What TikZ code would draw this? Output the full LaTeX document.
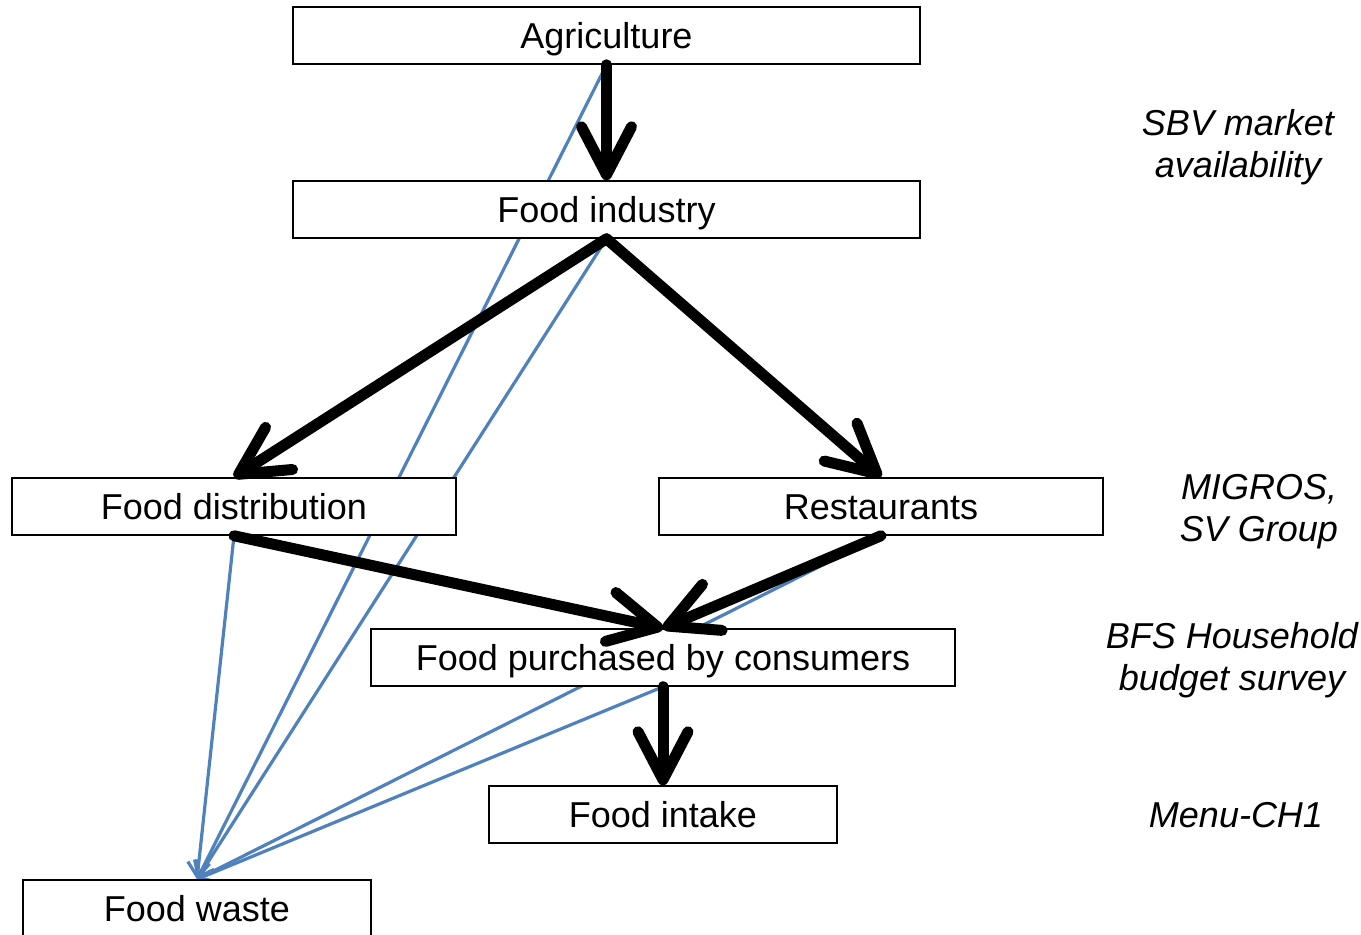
\documentclass[tikz,border=0pt]{standalone}
\usepackage{fontspec}
\setmainfont{Liberation Sans}
\usetikzlibrary{arrows.meta}
\pgfdeclarelayer{bg}
\pgfsetlayers{bg,main}
\definecolor{lineblue}{RGB}{79,129,189}
\tikzset{
  box/.style={draw=black, line width=0.75pt, fill=white, minimum height=28.5pt, inner sep=0pt, text height=16pt, text depth=3.5pt, font=\fontsize{18}{21}\selectfont},
  flow/.style={line width=5.5pt, line cap=round, -{Straight Barb[length=24pt,width=25pt,round]}},
  waste/.style={draw=lineblue, line width=1.6pt, -{Straight Barb[length=7pt,width=11pt]}},
  src/.style={font=\fontsize{18}{21}\selectfont\itshape, align=center}
}
\begin{document}
\begin{tikzpicture}[x=0.5pt,y=-0.5pt]
\useasboundingbox (0,0) rectangle (1361,934);
\node[box, minimum width=313.5pt] (agri) at (606.5,35.5) {Agriculture};
\node[box, minimum width=313.5pt] (ind) at (606.5,209.5) {Food industry};
\node[box, minimum width=222pt] (dist) at (234,506.5) {Food distribution};
\node[box, minimum width=222pt] (rest) at (881,506.5) {Restaurants};
\node[box, minimum width=292pt] (purch) at (663,657.5) {Food purchased by consumers};
\node[box, minimum width=174pt] (intake) at (663,814.5) {Food intake};
\node[box, minimum width=174pt] (waste) at (197,908.5) {Food waste};

\node[src] (l1) at (1238,147) {SBV market\\availability};
\node[src] (l2) at (1259,512) {MIGROS,\\SV Group};
\node[src] (l3) at (1232,660) {BFS Household\\budget survey};
\node[src] (l4) at (1236,815) {Menu-CH1};

\begin{pgfonlayer}{bg}
\draw[waste] (agri.south) -- (waste.north);
\draw[waste] (ind.south) -- (waste.north);
\draw[waste] (dist.south) -- (waste.north);
\draw[waste] (rest.south) -- (waste.north);
\draw[waste] (purch.south) -- (waste.north);
\end{pgfonlayer}

\draw[flow] (agri.south) -- (ind.north);
\draw[flow] (ind.south) -- (dist.north);
\draw[flow] (ind.south) -- (rest.north);
\draw[flow] (dist.south) -- (purch.north);
\draw[flow] (rest.south) -- (purch.north);
\draw[flow] (purch.south) -- (intake.north);
\end{tikzpicture}
\end{document}
